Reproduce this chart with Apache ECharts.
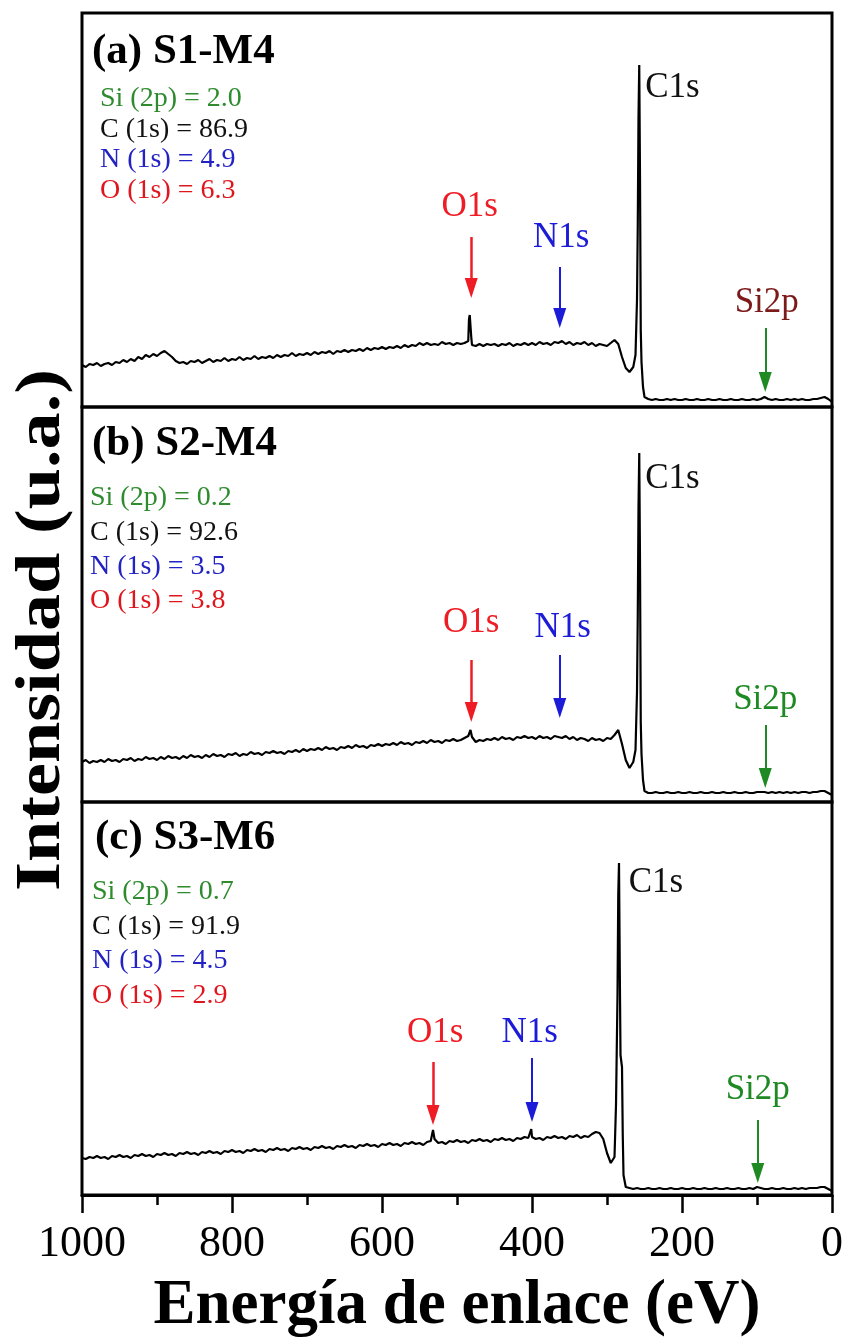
<!DOCTYPE html>
<html>
<head>
<meta charset="UTF-8">
<title>XPS survey</title>
<script src="https://cdn.jsdelivr.net/npm/echarts@6/dist/echarts.min.js"></script>
<style>
	html, body { margin: 0; padding: 0; background: #fff; }
	#chart { width: 849px; height: 1341px; }
</style>
</head>
<body>
<div id="chart"></div>
<script>
// binding energy grid (eV)
var energy = [
	1000, 995, 990, 985, 980, 975, 970, 965, 960, 955,
	950, 945, 940, 935, 930, 925, 920, 915, 910, 905,
	900, 895, 890, 885, 880, 875, 870, 865, 860, 855,
	850, 845, 840, 835, 830, 825, 820, 815, 810, 805,
	800, 795, 790, 785, 780, 775, 770, 765, 760, 755,
	750, 745, 740, 735, 730, 725, 720, 715, 710, 705,
	700, 695, 690, 685, 680, 675, 670, 665, 660, 655,
	650, 645, 640, 635, 630, 625, 620, 615, 610, 605,
	600, 595, 590, 585, 580, 575, 570, 565, 560, 555,
	550, 545, 540, 535, 530, 525, 520, 515, 510, 505,
	500, 495, 490, 485, 480, 475, 470, 465, 460, 455,
	450, 445, 440, 435, 430, 425, 420, 415, 410, 405,
	400, 395, 390, 385, 380, 375, 370, 365, 360, 355,
	350, 345, 340, 335, 330, 325, 320, 315, 310, 305,
	300, 295, 290, 285, 280, 275, 270, 265, 260, 255,
	250, 245, 240, 235, 230, 225, 220, 215, 210, 205,
	200, 195, 190, 185, 180, 175, 170, 165, 160, 155,
	150, 145, 140, 135, 130, 125, 120, 115, 110, 105,
	100, 95, 90, 85, 80, 75, 70, 65, 60, 55,
	50, 45, 40, 35, 30, 25, 20, 15, 10, 5,
	0
];

// (a) S1-M4 intensity (u.a.)
var intA = [
	42, 40, 43, 42, 44, 41, 43, 44, 42, 45,
	44, 47, 45, 48, 46, 50, 48, 52, 50, 53,
	51, 54, 56, 53, 50, 46, 44, 45, 43, 46,
	45, 47, 44, 46, 48, 45, 47, 46, 49, 46,
	48, 47, 50, 47, 49, 48, 51, 48, 50, 49,
	51, 49, 52, 50, 52, 51, 54, 51, 53, 52,
	54, 52, 55, 53, 55, 54, 56, 53, 56, 55,
	57, 55, 57, 56, 58, 56, 59, 57, 59, 58,
	60, 58, 60, 59, 61, 59, 62, 60, 62, 61,
	64, 62, 64, 62, 63, 62, 65, 63, 64, 62,
	64, 63, 64, 66, 62, 61, 63, 61, 63, 62,
	63, 61, 63, 62, 64, 61, 63, 62, 64, 62,
	64, 62, 65, 63, 64, 62, 65, 64, 66, 63,
	65, 62, 64, 63, 65, 62, 64, 61, 63, 62,
	61, 64, 67, 63, 50, 39, 35, 40, 107, 77,
	10, 8, 7, 8, 7, 7, 8, 7, 8, 7,
	7, 8, 7, 7, 8, 7, 7, 8, 7, 7,
	8, 7, 7, 8, 7, 7, 8, 7, 7, 8,
	7, 8, 10, 8, 7, 8, 7, 7, 8, 7,
	8, 7, 8, 7, 7, 8, 8, 9, 10, 8,
	5
];
var peaksA = [[484, 88], [483, 92], [481, 70], [262, 52], [259, 180], [258, 290], [257, 342], [256, 230], [254, 45], [252, 20]];

// (b) S2-M4
var intB = [
	40, 42, 39, 41, 40, 42, 40, 43, 41, 42,
	40, 43, 42, 44, 41, 43, 42, 45, 43, 44,
	42, 45, 43, 46, 44, 45, 43, 46, 44, 47,
	45, 46, 44, 47, 45, 48, 46, 47, 45, 48,
	47, 49, 46, 48, 47, 50, 48, 49, 47, 50,
	49, 51, 49, 50, 48, 51, 50, 52, 50, 53,
	51, 53, 52, 54, 52, 55, 53, 54, 52, 55,
	54, 56, 54, 57, 55, 56, 54, 57, 56, 58,
	56, 58, 57, 59, 57, 60, 58, 59, 57, 60,
	59, 61, 59, 62, 60, 61, 59, 62, 61, 63,
	61, 62, 64, 66, 65, 60, 62, 61, 63, 62,
	64, 62, 65, 63, 64, 62, 65, 64, 66, 64,
	65, 63, 66, 64, 65, 63, 66, 65, 64, 66,
	63, 65, 62, 64, 63, 61, 64, 62, 63, 61,
	64, 63, 67, 72, 58, 42, 34, 40, 110, 80,
	11, 9, 9, 10, 9, 9, 10, 9, 9, 10,
	9, 9, 10, 9, 9, 10, 9, 9, 10, 9,
	9, 10, 9, 9, 10, 9, 9, 10, 9, 9,
	10, 10, 10, 9, 10, 9, 10, 9, 10, 9,
	10, 9, 10, 10, 9, 10, 10, 11, 11, 9,
	7
];
var peaksB = [[482, 72], [262, 52], [259, 185], [258, 295], [257, 349], [256, 240], [254, 48], [252, 22]];

// (c) S3-M6
var intC = [
	37, 36, 38, 37, 39, 37, 38, 36, 39, 38,
	40, 38, 39, 37, 40, 39, 41, 39, 40, 38,
	41, 40, 42, 40, 41, 39, 42, 41, 43, 41,
	42, 40, 43, 42, 44, 42, 43, 41, 44, 43,
	45, 43, 44, 42, 45, 44, 46, 44, 45, 43,
	46, 45, 47, 45, 46, 44, 47, 46, 48, 46,
	47, 45, 48, 47, 49, 47, 48, 46, 49, 48,
	50, 48, 49, 47, 50, 49, 51, 49, 50, 48,
	51, 50, 52, 50, 51, 49, 52, 51, 53, 51,
	52, 50, 53, 54, 56, 52, 53, 51, 54, 53,
	55, 53, 54, 52, 55, 54, 56, 54, 55, 53,
	56, 55, 57, 55, 56, 54, 57, 56, 58, 57,
	58, 56, 57, 55, 58, 57, 59, 57, 58, 56,
	59, 58, 60, 57, 59, 58, 61, 63, 62, 56,
	42, 32, 38, 300, 128, 8, 7, 6, 7, 6,
	6, 7, 6, 6, 7, 6, 6, 7, 6, 6,
	7, 6, 6, 7, 6, 6, 7, 6, 6, 7,
	6, 6, 7, 6, 6, 7, 6, 6, 7, 6,
	8, 7, 6, 6, 7, 6, 6, 7, 6, 6,
	7, 6, 7, 6, 7, 7, 7, 8, 8, 6,
	4
];
var peaksC = [[532, 65], [401, 66], [293, 34], [288, 90], [286, 200], [284, 332], [283, 230], [282, 140], [279, 60], [278, 20]];

var panelTitles = ['(a) S1-M4', '(b) S2-M4', '(c) S3-M6'];
var compLabels = ['Si (2p)', 'C (1s)', 'N (1s)', 'O (1s)'];
var compA = [2.0, 86.9, 4.9, 6.3];
var compB = [0.2, 92.6, 3.5, 3.8];
var compC = [0.7, 91.9, 4.5, 2.9];

// peak arrows: [energy, start, tip]
var arrowsA = [[481, 170, 109], [363, 140, 79], [89, 79, 15]];
var arrowsB = [[481, 142, 80], [363, 147, 84], [89, 77, 14]];
var arrowsC = [[532, 133, 70], [400, 137, 73], [99, 75, 12]];
// peak labels: [text, energy, value]
var labelsA = [['O1s', 483, 200], ['N1s', 361, 169], ['Si2p', 87, 104], ['C1s', 249, 319]];
var labelsB = [['O1s', 481, 179], ['N1s', 359, 174], ['Si2p', 89, 102], ['C1s', 249, 323]];
var labelsC = [['O1s', 529, 162], ['N1s', 403, 162], ['Si2p', 99, 105], ['C1s', 271, 312]];

var serif = '"Liberation Serif", "Times New Roman", serif';
var RED = '#ee1c24', BLUE = '#1c1cd8', GREEN = '#1f8a24', DARKRED = '#7c1a1a';
var compColors = ['#2e8b2e', '#111111', '#2323c4', '#e0161e'];
var arrowColors = [RED, BLUE, GREEN];
var labelColors = [[RED, BLUE, DARKRED, '#111'], [RED, BLUE, GREEN, '#111'], [RED, BLUE, GREEN, '#111']];

var gridTop = [13, 407, 802];
var gridH = [394, 395, 393];

function buildLine(base, extra) {
	var pts = [];
	for(var i = 0; i < energy.length; i++) {
		pts.push([energy[i], base[i]]);
	}
	for(var j = 0; j < extra.length; j++) {
		pts.push(extra[j]);
	}
	pts.sort(function(a, b) {
		return b[0] - a[0];
	});
	return pts;
}

var grids = [], xAxes = [], yAxes = [], series = [], graphics = [];
var ints = [intA, intB, intC];
var peaks = [peaksA, peaksB, peaksC];
var comps = [compA, compB, compC];
var arrows = [arrowsA, arrowsB, arrowsC];
var labels = [labelsA, labelsB, labelsC];
var titleY = [52, 444, 838], titleX = [92, 92, 95];
var compY = [99, 498, 892], compX = [100, 90, 92], compGap = [30.5, 34.3, 34.5];

for(var p = 0; p < 3; p++) {
	var last = (p == 2);
	grids.push({
		left: 82,
		right: 17,
		top: gridTop[p],
		height: gridH[p],
		show: true,
		borderColor: '#000',
		borderWidth: 3
	});
	xAxes.push({
		type: 'value',
		gridIndex: p,
		min: 0,
		max: 1000,
		interval: 200,
		inverse: true,
		splitLine: { show: false },
		axisLine: { show: last, lineStyle: { color: '#000', width: 3 } },
		axisTick: { show: last, length: 18, inside: false, lineStyle: { color: '#000', width: 2.5 } },
		minorTick: { show: last, splitNumber: 2, length: 10, lineStyle: { color: '#000', width: 2.5 } },
		axisLabel: {
			show: last,
			color: '#000',
			fontFamily: serif,
			fontSize: 44,
			margin: 27,
			formatter: function(v) {
				return String(v);
			}
		},
		name: last ? 'Energía de enlace (eV)' : '',
		nameLocation: 'middle',
		nameGap: 80,
		nameTextStyle: { color: '#000', fontFamily: serif, fontSize: 63, fontWeight: 'bold' }
	});
	yAxes.push({
		type: 'value',
		gridIndex: p,
		min: 0,
		max: gridH[p],
		show: false
	});

	var mlData = arrows[p].map(function(a, k) {
		var st = { color: arrowColors[k], width: k == 0 ? 2.5 : 2, type: 'solid' };
		return [{ coord: [a[0], a[1]], lineStyle: st }, { coord: [a[0], a[2] + 10], lineStyle: st }];
	});
	var mpData = labels[p].map(function(l, k) {
		return {
			coord: [l[1], l[2]],
			value: l[0],
			label: {
				show: true,
				position: 'inside',
				formatter: l[0],
				color: labelColors[p][k],
				fontFamily: serif,
				fontSize: 35,
				align: l[0] == 'C1s' ? 'left' : 'center',
				verticalAlign: 'middle'
			}
		};
	});

	series.push({
		type: 'line',
		xAxisIndex: p,
		yAxisIndex: p,
		data: buildLine(ints[p], peaks[p]),
		showSymbol: false,
		lineStyle: { color: '#000', width: 2.2 },
		silent: true,
		markLine: {
			silent: true,
			symbol: ['none', 'triangle'],
			symbolSize: [13, 20],
			label: { show: false },
			data: mlData
		},
		markPoint: {
			silent: true,
			symbol: 'circle',
			symbolSize: 0,
			data: mpData
		}
	});

	graphics.push({
		type: 'text',
		x: titleX[p],
		y: titleY[p],
		style: {
			text: panelTitles[p],
			fill: '#000',
			fontFamily: serif,
			fontSize: 43,
			fontWeight: 'bold',
			verticalAlign: 'middle'
		}
	});
	for(var c = 0; c < 4; c++) {
		graphics.push({
			type: 'text',
			x: compX[p],
			y: compY[p] + c * compGap[p],
			style: {
				text: compLabels[c] + ' = ' + comps[p][c].toFixed(1),
				fill: compColors[c],
				fontFamily: serif,
				fontSize: 28,
				verticalAlign: 'middle'
			}
		});
	}
}

graphics.push({
	type: 'text',
	x: 42,
	y: 630,
	rotation: Math.PI / 2,
	scaleX: 1.16,
	style: {
		text: 'Intensidad (u.a.)',
		fill: '#000',
		fontFamily: serif,
		fontSize: 64,
		fontWeight: 'bold',
		align: 'center',
		verticalAlign: 'middle'
	}
});

var chart = echarts.init(document.getElementById('chart'));
chart.setOption({
	animation: false,
	backgroundColor: '#fff',
	grid: grids,
	xAxis: xAxes,
	yAxis: yAxes,
	series: series,
	graphic: graphics
});
</script>
</body>
</html>
